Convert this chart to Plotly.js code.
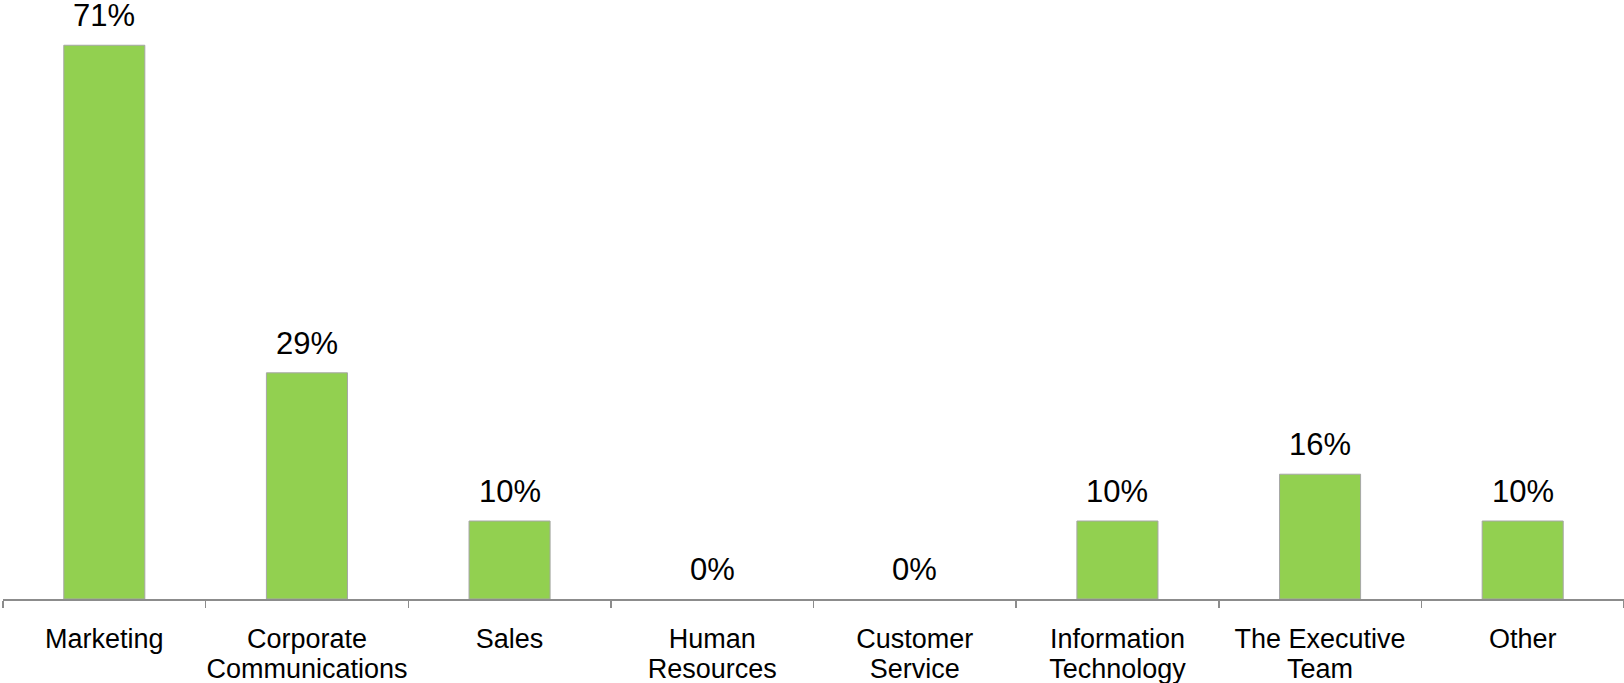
<!DOCTYPE html>
<html>
<head>
<meta charset="utf-8">
<script src="https://cdn.plot.ly/plotly-3.0.1.min.js"></script>
<style>
html, body { margin: 0; padding: 0; background: #ffffff; }
#chart { width: 1624px; height: 683px; }
</style>
</head>
<body>
<div id="chart"></div>
<script>
// Data
var categories = ["Marketing", "Corporate<br>Communications", "Sales", "Human<br>Resources", "Customer<br>Service", "Information<br>Technology", "The Executive<br>Team", "Other"];
var values = [71, 29, 10, 0, 0, 10, 16, 10];
var valueLabels = ["71%", "29%", "10%", "0%", "0%", "10%", "16%", "10%"];

var FONT = "'Liberation Sans', Arial, sans-serif";

var trace = {
  type: "bar",
  x: categories,
  y: values,
  width: 0.4,
  marker: {
    color: "#92D050",
    line: { color: "#a6a6a6", width: values.map(function (v) { return v > 0 ? 1 : 0; }) }
  },
  hoverinfo: "none"
};

var annotations = categories.map(function (c, i) {
  return {
    x: c, y: values[i], xref: "x", yref: "y",
    text: valueLabels[i], showarrow: false,
    yanchor: "bottom", xanchor: "center", yshift: 10,
    font: { family: FONT, size: 31, color: "#000000" }
  };
});

var layout = {
  width: 1624, height: 683,
  margin: { l: 3, r: 0, t: 0, b: 84, pad: 0 },
  paper_bgcolor: "#ffffff", plot_bgcolor: "#ffffff",
  showlegend: false,
  bargap: 0.6,
  xaxis: {
    type: "category",
    range: [-0.5, 7.5],
    tickangle: 0,
    showline: true, linecolor: "#8c8c8c", linewidth: 1.5,
    ticks: "outside", tickson: "boundaries", ticklen: 7, tickcolor: "#8c8c8c", tickwidth: 1.5,
    ticklabelstandoff: 15,
    tickfont: { family: FONT, size: 27, color: "#000000" },
    showgrid: false, zeroline: false, fixedrange: true
  },
  yaxis: {
    range: [0, 76.8],
    visible: false, showgrid: false, zeroline: false, fixedrange: true
  },
  annotations: annotations
};

function tightenLines() {
  var tspans = document.querySelectorAll("#chart .xtick text tspan.line");
  tspans.forEach(function (t) {
    if (t.getAttribute("data-adj")) return;
    var dy = t.getAttribute("dy");
    if (dy && dy.indexOf("em") > 0) {
      var v = parseFloat(dy);
      t.setAttribute("dy", (v * 1.12 / 1.3) + "em");
    }
    t.setAttribute("data-adj", "1");
  });
}

Plotly.newPlot("chart", [trace], layout, { displayModeBar: false, staticPlot: true }).then(function (gd) {
  tightenLines();
  gd.on("plotly_afterplot", tightenLines);
});
</script>
</body>
</html>
